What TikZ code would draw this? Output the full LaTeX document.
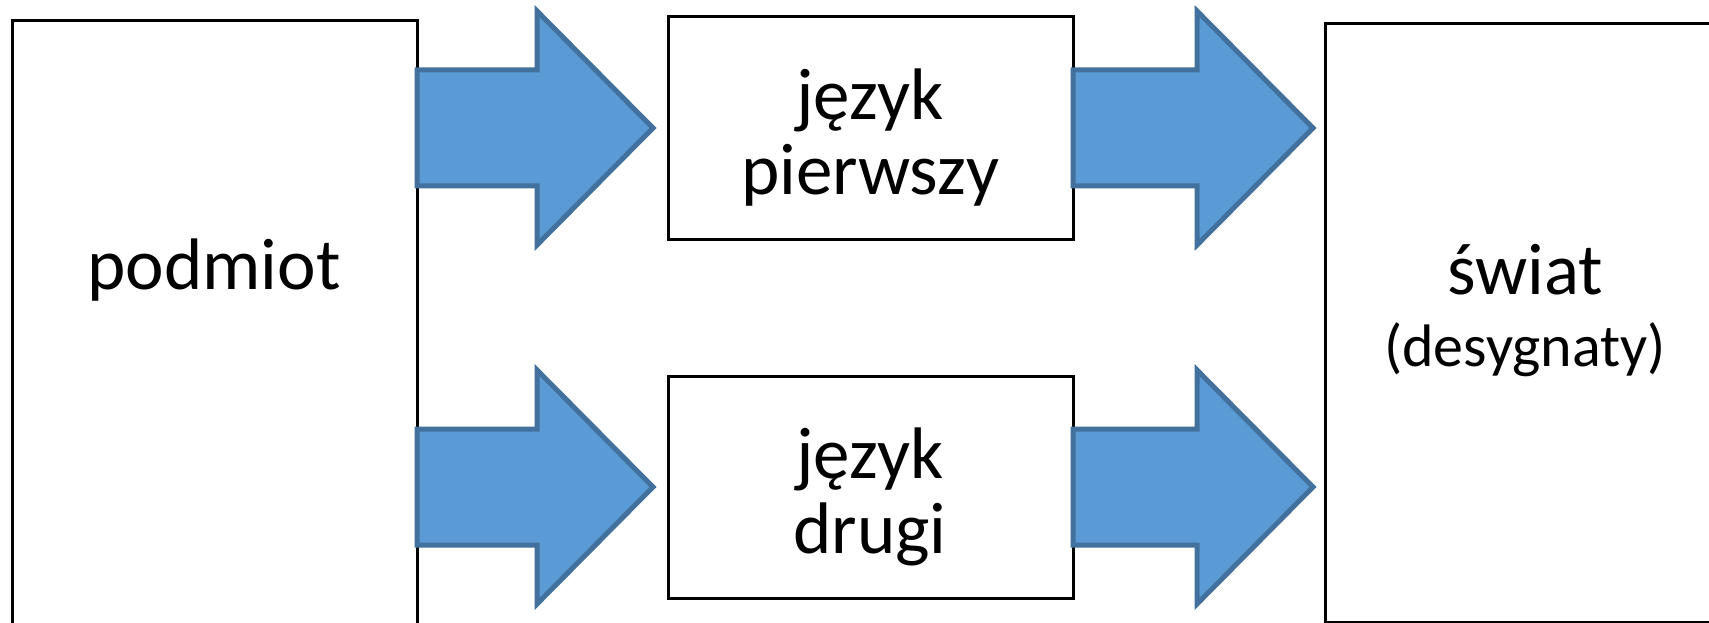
\documentclass[tikz,border=0pt]{standalone}
\usepackage{fontspec}
\setmainfont{Carlito}
\usetikzlibrary{calc}
\definecolor{afill}{HTML}{5B9BD5}
\definecolor{aline}{HTML}{41719C}
\newcommand{\blockarr}[2]{%
  \draw[blockarrow] ($(#1)+(0,-58)$) -- ($(#2)+(-116,-58)$) -- ($(#2)+(-116,-117)$)
    -- (#2) -- ($(#2)+(-116,117)$) -- ($(#2)+(-116,58)$) -- ($(#1)+(0,58)$) -- cycle;}
\begin{document}
\begin{tikzpicture}[x=1pt,y=-1pt,
  box/.style={draw=black, line width=3pt, fill=white, inner sep=0pt, outer sep=0pt, anchor=north west},
  blockarrow/.style={fill=afill, draw=aline, line width=5pt, line join=miter},
  lbl/.style={font=\fontsize{73}{80}\selectfont, anchor=base, inner sep=0pt},
  slbl/.style={font=\fontsize{60}{70}\selectfont, anchor=base, inner sep=0pt}]
\useasboundingbox (0,0) rectangle (1709,623);
\fill[white] (0,0) rectangle (1709,623);
\begin{scope}
\clip (0,0) rectangle (1709,623);
\node[box, minimum width=405pt, minimum height=700pt] (pod) at (12,21) {};
\node[box, minimum width=405pt, minimum height=222pt] (jp) at (668,17) {};
\node[box, minimum width=405pt, minimum height=222pt] (jd) at (668,376) {};
\node[box, minimum width=400pt, minimum height=598pt] (sw) at (1325,24) {};
\coordinate (a1s) at (pod.east |- jp.center);
\coordinate (a1t) at ($(jp.west)+(-15,0)$);
\coordinate (a2s) at (pod.east |- jd.center);
\coordinate (a2t) at ($(jd.west)+(-15,0)$);
\coordinate (a3s) at (jp.east);
\coordinate (a3t) at ($(sw.west |- jp.center)+(-12,0)$);
\coordinate (a4s) at (jd.east);
\coordinate (a4t) at ($(sw.west |- jd.center)+(-12,0)$);
\blockarr{a1s}{a1t}
\blockarr{a2s}{a2t}
\blockarr{a3s}{a3t}
\blockarr{a4s}{a4t}
\node[lbl] (podt) at (214,289) {podmiot};
\node[lbl] (jp1) at (870,120) {język};
\node[lbl] (jp2) at (870,194) {pierwszy};
\node[lbl] (jd1) at (870,478) {język};
\node[lbl] (jd2) at (870,553) {drugi};
\node[lbl] (sw1) at (1525,294) {świat};
\node[slbl] (sw2) at (1525,366) {(desygnaty)};
\end{scope}
\end{tikzpicture}
\end{document}
